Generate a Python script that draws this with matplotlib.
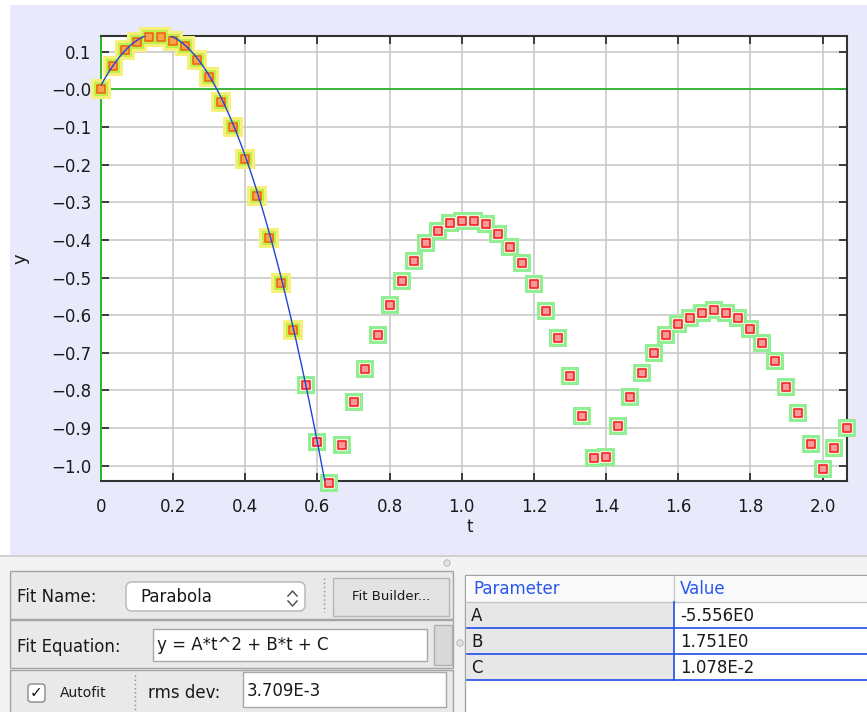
import matplotlib
matplotlib.use("Agg")
import matplotlib.pyplot as plt
import matplotlib.ticker as ticker
from matplotlib.patches import Rectangle, FancyBboxPatch, Circle
import numpy as np

# ---------------------------------------------------------------------------
# Data (video frames, 30 fps)
# ---------------------------------------------------------------------------
t_values = [0.000, 0.033, 0.067, 0.100, 0.133, 0.167, 0.200, 0.233, 0.267, 0.300,
            0.333, 0.367, 0.400, 0.433, 0.467, 0.500, 0.533, 0.567, 0.600, 0.633,
            0.667, 0.700, 0.733, 0.767, 0.800, 0.833, 0.867, 0.900, 0.933, 0.967,
            1.000, 1.033, 1.067, 1.100, 1.133, 1.167, 1.200, 1.233, 1.267, 1.300,
            1.333, 1.367, 1.400, 1.433, 1.467, 1.500, 1.533, 1.567, 1.600, 1.633,
            1.667, 1.700, 1.733, 1.767, 1.800, 1.833, 1.867, 1.900, 1.933, 1.967,
            2.000, 2.033, 2.067]
y_values = [0.002, 0.061, 0.104, 0.126, 0.138, 0.138, 0.129, 0.114, 0.077, 0.032,
            -0.034, -0.101, -0.184, -0.284, -0.396, -0.514, -0.640, -0.786, -0.938, -1.047,
            -0.945, -0.830, -0.744, -0.653, -0.573, -0.508, -0.456, -0.409, -0.376, -0.354,
            -0.349, -0.349, -0.358, -0.384, -0.418, -0.461, -0.517, -0.589, -0.662, -0.762,
            -0.868, -0.980, -0.976, -0.895, -0.817, -0.753, -0.701, -0.653, -0.624, -0.607,
            -0.594, -0.586, -0.594, -0.607, -0.637, -0.675, -0.722, -0.790, -0.859, -0.941,
            -1.010, -0.954, -0.899]
n_selected = 17          # first points used by the fit

# Fit result shown in the panel
fit_name = "Parabola"
fit_equation = "y = A*t^2 + B*t + C"
rms_dev = "3.709E-3"
param_names = ["A", "B", "C"]
param_values = ["-5.556E0", "1.751E0", "1.078E-2"]
A, B, C = -5.556, 1.751, 1.078e-2

x_ticks = [0.0, 0.2, 0.4, 0.6, 0.8, 1.0, 1.2, 1.4, 1.6, 1.8, 2.0]
y_ticks = [0.1, 0.0, -0.1, -0.2, -0.3, -0.4, -0.5, -0.6, -0.7, -0.8, -0.9, -1.0]

# ---------------------------------------------------------------------------
W, H = 867, 712
fig = plt.figure(figsize=(W / 100, H / 100), dpi=100, facecolor="white")

# background / GUI layer in pixel coordinates (origin top-left)
bg = fig.add_axes([0, 0, 1, 1], zorder=0)
bg.set_xlim(0, W)
bg.set_ylim(H, 0)
bg.axis("off")


def rect(x0, y0, x1, y1, fc, ec="none", lw=1.0, z=1):
    bg.add_patch(Rectangle((x0, y0), x1 - x0, y1 - y0, facecolor=fc,
                           edgecolor=ec, linewidth=lw, zorder=z))


def label(x, y, s, size=12, color="#1a1a1a", ha="left", **kw):
    bg.text(x, y, s, fontsize=size, color=color, ha=ha, va="center", zorder=5, **kw)


# lavender plot panel
rect(10, 5, W, 555, "#e8eafb")
rect(0, 555, W, 557, "#d2d2d2")
rect(0, 557, W, H, "#f3f3f3")
bg.add_patch(Circle((447, 563), 3.2, facecolor="#e2e2e2", edgecolor="#bdbdbd", lw=0.8, zorder=2))

# row 1 : fit name
rect(10, 571, 453, 619, "#e9e9e9", "#a4a4a4")
label(17, 597, "Fit Name:")
bg.add_patch(FancyBboxPatch((126, 582), 179, 29, boxstyle="round,pad=0,rounding_size=6",
                            facecolor="white", edgecolor="#b4b4b4", lw=1, zorder=2))
label(140, 597, fit_name)
bg.plot([288, 292.5, 297], [596, 591, 596], color="#555555", lw=1.1, zorder=3)
bg.plot([288, 292.5, 297], [601, 606, 601], color="#555555", lw=1.1, zorder=3)
bg.plot([324, 324], [578, 612], color="#8c8c8c", lw=1, ls=(0, (1, 2)), zorder=3)
rect(333, 578, 449, 616, "#e3e3e3", "#b6b6b6", z=2)
label(391, 597, "Fit Builder...", size=9.5, ha="center")

# row 2 : equation
rect(10, 620, 453, 668, "#e9e9e9", "#a4a4a4")
label(17, 647, "Fit Equation:")
rect(153, 629, 427, 661, "white", "#a8a8a8", z=2)
label(157, 645, fit_equation)
rect(434, 625, 452, 665, "#d9d9d9", "#b0b0b0", z=2)

# row 3 : autofit / rms
rect(10, 670, 453, H + 2, "#e9e9e9", "#a4a4a4")
bg.add_patch(FancyBboxPatch((28, 684), 17, 18, boxstyle="round,pad=0,rounding_size=3",
                            facecolor="white", edgecolor="#8a8a8a", lw=1, zorder=2))
label(36.5, 693, "\u2713", size=11, ha="center")
label(60, 693, "Autofit", size=10)
bg.plot([135, 135], [675, 710], color="#8c8c8c", lw=1, ls=(0, (1, 2)), zorder=3)
label(148, 693, "rms dev:")
rect(243, 672, 446, 707, "white", "#a8a8a8", z=2)
label(247, 691, rms_dev)

# divider between panel halves
bg.add_patch(Circle((460, 643), 3.2, facecolor="#e2e2e2", edgecolor="#bdbdbd", lw=0.8, zorder=2))

# parameter table
rect(465, 575, W + 2, H + 2, "white", "#a4a4a4")
rect(466, 576, W, 602, "#fafafa", z=2)
bg.plot([674, 674], [576, 602], color="#c8c8c8", lw=1, zorder=3)
bg.plot([466, W], [602, 602], color="#c4c4c4", lw=1, zorder=3)
label(473, 589, "Parameter", color="#2857f0")
label(680, 589, "Value", color="#2857f0")
row_h = 26
for i, (pn, pv) in enumerate(zip(param_names, param_values)):
    y0 = 602 + i * row_h
    rect(466, y0, 674, y0 + row_h, "#e7e7e7", z=2)
    label(471, y0 + 14, pn)
    label(680, y0 + 14, pv)
    bg.plot([467, W], [y0 + row_h, y0 + row_h], color="#1f4fe6", lw=1.2, zorder=3)
bg.plot([674, 674], [602, 602 + 3 * row_h], color="#1f4fe6", lw=1.2, zorder=3)

# ---------------------------------------------------------------------------
# Main plot
# ---------------------------------------------------------------------------
left, right, top, bottom = 101, 846.7, 35.7, 481
ax = fig.add_axes([left / W, 1 - bottom / H, (right - left) / W, (bottom - top) / H], zorder=2)
ax.set_facecolor("white")

t = np.array(t_values)
yv = np.array(y_values)
sel = slice(0, n_selected)
rest = slice(n_selected, None)

# halos
ax.scatter(t[rest], yv[rest], s=150, marker="s", color="#92ee92", lw=0, zorder=3, clip_on=False)
ax.scatter(t[sel], yv[sel], s=210, marker="s", color="#f6f07a", lw=0, zorder=3, clip_on=False)
ax.scatter(t[rest], yv[rest], s=72, marker="s", color="#ddf8dd", lw=0, zorder=4, clip_on=False)
ax.scatter(t[sel], yv[sel], s=115, marker="s", color="#c2ee4a", lw=0, zorder=4, clip_on=False)
# markers
ax.scatter(t[rest], yv[rest], s=34, marker="s", facecolor="#f59a9a", edgecolor="#ff1414",
           lw=1.1, zorder=6, clip_on=False)
ax.scatter(t[sel], yv[sel], s=34, marker="s", facecolor="#f8a24a", edgecolor="#f0600e",
           lw=1.1, zorder=6, clip_on=False)

# fitted parabola
tt = np.linspace(0, 2.1, 400)
ax.plot(tt, A * tt ** 2 + B * tt + C, color="#1f45d8", lw=1.0, zorder=7)

ax.axhline(0, color="#2fb52f", lw=1.3, zorder=2)

ax.set_xlim(0, 2.067)
ax.set_ylim(-1.0406, 0.1424)
ax.set_xticks(x_ticks)
ax.set_yticks(y_ticks)
ax.xaxis.set_major_formatter(ticker.FuncFormatter(
    lambda v, _: "0" if abs(v) < 1e-9 else f"{v:.1f}"))
ax.yaxis.set_major_formatter(ticker.FuncFormatter(
    lambda v, _: "\u22120.0" if abs(v) < 1e-9 else f"{v:.1f}".replace("-", "\u2212")))
ax.tick_params(axis="both", direction="in", length=6, width=1.2, color="#222222",
               labelsize=12, labelcolor="#1a1a1a", top=True, right=True)
ax.tick_params(axis="x", pad=12)
ax.tick_params(axis="y", pad=7)

ax.grid(True, color="#c9c9c9", lw=1.2)
ax.set_axisbelow(True)

for side in ("top", "right", "bottom"):
    ax.spines[side].set_color("#333333")
    ax.spines[side].set_linewidth(1.5)
ax.spines["left"].set_color("#2fb52f")
ax.spines["left"].set_linewidth(1.4)

ax.set_xlabel("t", fontsize=12, color="#1a1a1a")
ax.xaxis.label.set_va("center")
ax.xaxis.set_label_coords(0.495, -0.103)
ax.set_ylabel("y", fontsize=13, color="#1a1a1a")
ax.yaxis.label.set_va("center")
ax.yaxis.set_label_coords(-0.1086, 0.5)

fig.savefig("out.png", dpi=100, facecolor="white")
